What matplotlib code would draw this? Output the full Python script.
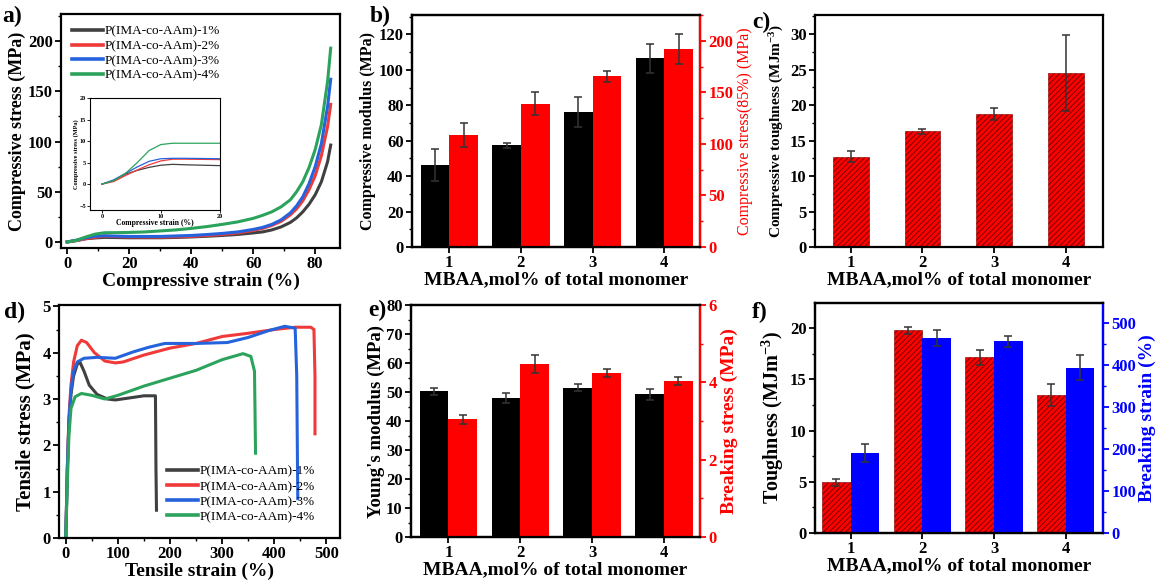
import numpy as np
import matplotlib
matplotlib.use("Agg")
from matplotlib import pyplot as plt
from matplotlib.ticker import AutoMinorLocator

plt.rcParams['font.family'] = ['Liberation Serif', 'DejaVu Serif']
plt.rcParams['font.weight'] = 'bold'
plt.rcParams['axes.linewidth'] = 1.6
plt.rcParams['hatch.linewidth'] = 0.7
plt.rcParams['mathtext.default'] = 'regular'

labels = ['P(IMA-co-AAm)-1%', 'P(IMA-co-AAm)-2%', 'P(IMA-co-AAm)-3%', 'P(IMA-co-AAm)-4%']
line_colors = ['#404040', '#f03a3a', '#2563dd', '#2ba35c']

# (a) compressive curves, strain (%) vs stress (MPa)
comp_x = [0, 3, 6, 9, 12, 16, 20, 25, 30, 35, 40, 45, 50, 55, 60, 63, 66, 69, 72, 74, 76, 78, 80, 82, 84, 85]
comp_y = [
    [0, 1.5, 3.2, 4.0, 4.6, 4.4, 4.2, 4.2, 4.2, 4.5, 5, 5.7, 6.5, 7.5, 9, 10, 12, 15, 19.5, 24, 30, 37.5, 47, 60, 80, 96.5],
    [0, 1.4, 3.3, 4.6, 5.8, 5.3, 5.0, 4.9, 4.8, 5.1, 5.5, 6.4, 7.5, 9, 11.5, 13.5, 16.5, 20.5, 27, 33, 41, 52, 66, 86, 115, 137],
    [0, 1.8, 4.2, 5.7, 6.2, 5.8, 5.5, 5.5, 5.5, 6, 6.5, 7.4, 8.5, 10, 12.5, 14.5, 17.5, 22, 29, 36, 45, 58, 75, 98, 135, 162],
    [0, 1.6, 5, 7.8, 9.2, 9.3, 9.5, 10, 11, 12, 13.5, 15.3, 17.5, 20, 23.5, 26.5, 30, 35, 42, 50, 60, 74, 92, 117, 160, 193],
]
inset_x = [0, 2, 4, 6, 8, 10, 12, 14, 20]
inset_y = [
    [0, 0.8, 2.3, 3.2, 3.9, 4.4, 4.6, 4.5, 4.3],
    [0, 0.6, 2.0, 3.3, 4.5, 5.4, 5.8, 5.8, 5.7],
    [0, 1.0, 2.5, 4.0, 5.3, 5.9, 6.0, 6.0, 5.9],
    [0, 0.8, 2.5, 5.0, 7.8, 9.2, 9.5, 9.5, 9.5],
]

# (d) tensile curves, strain (%) vs stress (MPa)
tens_x = [
    [0, 3, 6, 10, 15, 22, 27, 35, 45, 60, 80, 95, 120, 150, 172, 173, 174],
    [0, 3, 6, 10, 15, 22, 30, 40, 55, 75, 95, 110, 150, 200, 250, 300, 350, 400, 440, 470, 476, 478, 478],
    [0, 3, 6, 10, 15, 22, 35, 60, 95, 130, 160, 190, 250, 310, 350, 390, 420, 440, 443, 445],
    [0, 3, 6, 10, 18, 30, 50, 75, 100, 150, 200, 250, 300, 340, 355, 362, 364],
]
tens_y = [
    [0, 1.5, 2.5, 3.1, 3.5, 3.75, 3.8, 3.6, 3.3, 3.1, 3.0, 2.98, 3.02, 3.07, 3.07, 1.5, 0.6],
    [0, 1.5, 2.6, 3.3, 3.8, 4.15, 4.27, 4.22, 4.0, 3.82, 3.78, 3.8, 3.95, 4.1, 4.2, 4.35, 4.42, 4.5, 4.55, 4.55, 4.5, 3.5, 2.25],
    [0, 1.5, 2.5, 3.2, 3.6, 3.8, 3.88, 3.9, 3.88, 4.02, 4.12, 4.2, 4.2, 4.22, 4.33, 4.48, 4.57, 4.53, 3.5, 0.85],
    [0, 1.2, 2.2, 2.8, 3.05, 3.12, 3.08, 3.0, 3.08, 3.28, 3.45, 3.62, 3.85, 3.98, 3.92, 3.6, 1.83],
]

# bar charts
mbaa = [1, 2, 3, 4]
comp_modulus = [46.5, 57.5, 76, 106.5]
comp_modulus_err = [9, 1.5, 8.5, 8]
comp_stress85 = [108.5, 139, 165.5, 192]
comp_stress85_err = [12, 11, 5, 15]
comp_tough = [12.75, 16.3, 18.7, 24.5]
comp_tough_err = [0.75, 0.4, 0.85, 5.4]
young = [50.2, 47.9, 51.5, 49.2]
young_err = [1.3, 1.6, 1.3, 1.9]
break_stress = [3.04, 4.47, 4.25, 4.03]
break_stress_err = [0.12, 0.23, 0.1, 0.1]
toughness = [4.93, 19.77, 17.16, 13.44]
toughness_err = [0.3, 0.3, 0.72, 1.08]
break_strain = [191, 465, 457, 394]
break_strain_err = [22, 19, 13, 30]

W, H = 1157, 581
fig = plt.figure(figsize=(W / 100, H / 100), dpi=100)


def box(x0, y0, x1, y1):
    return [x0 / W, 1 - y1 / H, (x1 - x0) / W, (y1 - y0) / H]


def style(ax, fs=12):
    ax.tick_params(direction='out', width=1.3, length=4, labelsize=fs, pad=2)
    ax.tick_params(which='minor', direction='out', width=1.0, length=2)
    for t in ax.get_xticklabels() + ax.get_yticklabels():
        t.set_fontweight('bold')


xlab_fs = 14
err_kw = dict(ecolor='#333333', elinewidth=1.1, capsize=3, capthick=1.1)

# ---- a) ----
ax = fig.add_axes(box(61, 14, 340, 248))
for i in range(4):
    ax.plot(comp_x, comp_y[i], color=line_colors[i], lw=2.2, label=labels[i])
ax.set_xlim(-2, 88)
ax.set_ylim(-6, 227)
ax.set_xticks([0, 20, 40, 60, 80])
ax.set_yticks([0, 50, 100, 150, 200])
ax.xaxis.set_minor_locator(AutoMinorLocator(2))
ax.yaxis.set_minor_locator(AutoMinorLocator(2))
style(ax)
ax.set_xlabel('Compressive strain (%)', fontsize=xlab_fs, fontweight='bold', labelpad=0)
ax.set_ylabel('Compressive stress (MPa)', fontsize=13, fontweight='bold', labelpad=1)
leg = ax.legend(loc='upper left', bbox_to_anchor=(0.01, 0.985), frameon=False, handlelength=2.4,
                handletextpad=0.1, prop={'size': 9.5, 'weight': 'normal'}, labelspacing=0.18,
                borderaxespad=0.2)
for l in leg.get_lines():
    l.set_linewidth(2.6)

ins = fig.add_axes(box(90, 98, 220, 210))
for i in range(4):
    ins.plot(inset_x, inset_y[i], color=line_colors[i], lw=0.9)
ins.set_xlim(-2, 20)
ins.set_ylim(-6, 20)
ins.set_xticks([0, 10, 20])
ins.set_yticks([-5, 0, 5, 10, 15, 20])
for s in ins.spines.values():
    s.set_linewidth(0.8)
ins.tick_params(direction='out', width=0.6, length=2, labelsize=4.5, pad=1)
ins.set_xlabel('Compressive strain (%)', fontsize=5.5, fontweight='bold', labelpad=0)
ins.set_ylabel('Compressive stress (MPa)', fontsize=4.5, fontweight='bold', labelpad=0)

# ---- b) ----
ax = fig.add_axes(box(412, 15, 700, 247))
x = np.array(mbaa)
ax.bar(x - 0.2, comp_modulus, 0.4, color='black', yerr=comp_modulus_err, error_kw=err_kw)
ax.set_ylim(0, 131)
ax.set_xlim(0.48, 4.5)
ax.set_xticks(mbaa)
ax.set_yticks(range(0, 121, 20))
ax.yaxis.set_minor_locator(AutoMinorLocator(2))
ax.set_ylabel('Compressive modulus (MPa)', fontsize=11.5, fontweight='bold', labelpad=2)
ax.set_xlabel('MBAA,mol% of total monomer', fontsize=xlab_fs, fontweight='bold', labelpad=0)
style(ax)
ax2 = ax.twinx()
ax2.bar(x + 0.2, comp_stress85, 0.4, color='#ff0000', yerr=comp_stress85_err, error_kw=err_kw)
ax2.set_ylim(0, 225)
ax2.set_yticks([0, 50, 100, 150, 200])
ax2.yaxis.set_minor_locator(AutoMinorLocator(2))
ax2.spines['right'].set_color('#ff0000')
style(ax2)
ax2.tick_params(axis='y', which='both', colors='#ff0000')
ax2.set_ylabel('Compressive stress(85%) (MPa)', fontsize=11.5, fontweight='normal', color='#ff0000', labelpad=3)

# ---- c) ----
ax = fig.add_axes(box(815, 15, 1103, 247))
ax.bar(x, comp_tough, 0.5, color='#ff0000', edgecolor='#7a0000', linewidth=0.4, hatch='//////',
       yerr=comp_tough_err, error_kw=err_kw)
ax.set_ylim(0, 32.7)
ax.set_xlim(0.5, 4.52)
ax.set_xticks(mbaa)
ax.set_yticks(range(0, 31, 5))
ax.yaxis.set_minor_locator(AutoMinorLocator(2))
style(ax)
ax.set_ylabel('Compressive toughness (MJm$^{-3}$)', fontsize=11, fontweight='bold', labelpad=3)
ax.set_xlabel('MBAA,mol% of total monomer', fontsize=xlab_fs, fontweight='bold', labelpad=0)

# ---- d) ----
ax = fig.add_axes(box(59, 305, 340, 538))
for i in range(4):
    ax.plot(tens_x[i], tens_y[i], color=line_colors[i], lw=2.2, label=labels[i])
ax.set_xlim(-13, 526)
ax.set_ylim(0, 5.03)
ax.set_xticks([0, 100, 200, 300, 400, 500])
ax.set_yticks([0, 1, 2, 3, 4, 5])
ax.xaxis.set_minor_locator(AutoMinorLocator(2))
ax.yaxis.set_minor_locator(AutoMinorLocator(2))
style(ax)
ax.set_xlabel('Tensile strain (%)', fontsize=xlab_fs, fontweight='bold', labelpad=0)
ax.set_ylabel('Tensile stress (MPa)', fontsize=15, fontweight='bold', labelpad=5)
leg = ax.legend(loc='lower left', bbox_to_anchor=(0.355, 0.03), frameon=False, handlelength=2.4,
                handletextpad=0.1, prop={'size': 9.5, 'weight': 'normal'}, labelspacing=0.22,
                borderaxespad=0.2)
for l in leg.get_lines():
    l.set_linewidth(2.6)

# ---- e) ----
ax = fig.add_axes(box(411, 305, 700, 537))
ax.bar(x - 0.2, young, 0.4, color='black', yerr=young_err, error_kw=err_kw)
ax.set_ylim(0, 80)
ax.set_xlim(0.48, 4.5)
ax.set_xticks(mbaa)
ax.set_yticks(range(0, 81, 10))
ax.yaxis.set_minor_locator(AutoMinorLocator(2))
style(ax)
ax.set_ylabel("Young's modulus (MPa)", fontsize=13.5, fontweight='bold', labelpad=1)
ax.set_xlabel('MBAA,mol% of total monomer', fontsize=xlab_fs, fontweight='bold', labelpad=0)
ax2 = ax.twinx()
ax2.bar(x + 0.2, break_stress, 0.4, color='#ff0000', yerr=break_stress_err, error_kw=err_kw)
ax2.set_ylim(0, 6)
ax2.set_yticks([0, 2, 4, 6])
ax2.yaxis.set_minor_locator(AutoMinorLocator(2))
ax2.spines['right'].set_color('#ff0000')
style(ax2)
ax2.tick_params(axis='y', which='both', colors='#ff0000')
ax2.set_ylabel('Breaking stress (MPa)', fontsize=14, fontweight='bold', color='#ff0000', labelpad=3)

# ---- f) ----
ax = fig.add_axes(box(815, 303, 1103, 533))
ax.bar(x - 0.2, toughness, 0.4, color='#ff0000', edgecolor='#7a0000', linewidth=0.4, hatch='//////',
       yerr=toughness_err, error_kw=err_kw)
ax.set_ylim(0, 22.45)
ax.set_xlim(0.5, 4.52)
ax.set_xticks(mbaa)
ax.set_yticks(range(0, 21, 5))
ax.yaxis.set_minor_locator(AutoMinorLocator(2))
style(ax)
ax.set_ylabel('Toughness (MJm$^{-3}$)', fontsize=14.5, fontweight='bold', labelpad=3)
ax.set_xlabel('MBAA,mol% of total monomer', fontsize=xlab_fs, fontweight='bold', labelpad=0)
ax2 = ax.twinx()
ax2.bar(x + 0.2, break_strain, 0.4, color='#0000ff', yerr=break_strain_err, error_kw=err_kw)
ax2.set_ylim(0, 548)
ax2.set_yticks(range(0, 501, 100))
ax2.yaxis.set_minor_locator(AutoMinorLocator(2))
ax2.spines['right'].set_color('#0000ff')
style(ax2)
ax2.tick_params(axis='y', which='both', colors='#0000ff')
ax2.set_ylabel('Breaking strain (%)', fontsize=14, fontweight='bold', color='#0000ff', labelpad=2)

# panel letters
for txt, px, py in [('a)', 2, 22), ('b)', 370, 22), ('c)', 752, 28),
                    ('d)', 4, 318), ('e)', 368, 316), ('f)', 752, 318)]:
    fig.text(px / W, 1 - py / H, txt, fontsize=17, fontweight='bold')

fig.savefig('out.png', dpi=100)
